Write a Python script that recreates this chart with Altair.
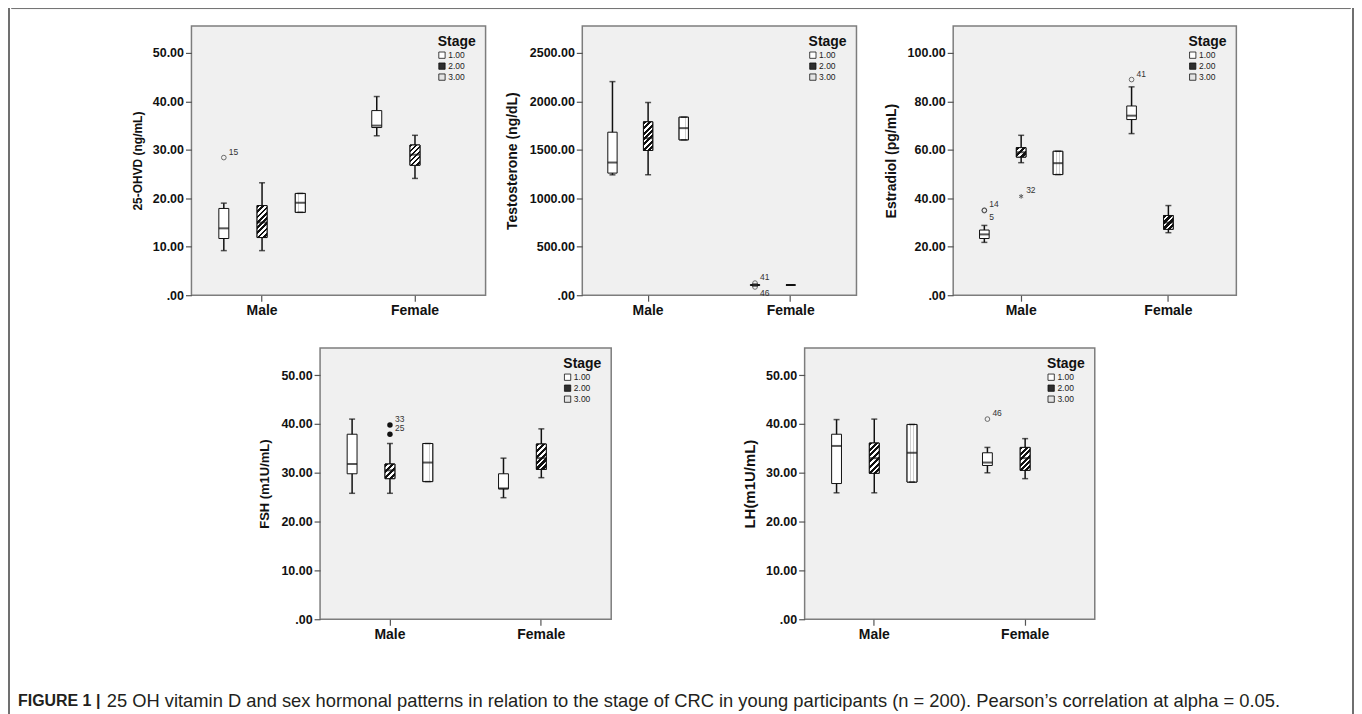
import altair as alt
import pandas as pd

SANS = "Liberation Sans"

# ---------------- data ----------------
SEXES = ["Male", "Female"]
STAGES = ["1.00", "2.00", "3.00"]
BOX_SEX = ["Male", "Male", "Male", "Female", "Female"]
BOX_STAGE = ["1.00", "2.00", "3.00", "1.00", "2.00"]

OHVD_MIN = [9.2, 9.2, 17.1, 32.9, 24.1]
OHVD_Q1 = [11.7, 11.9, 17.1, 34.6, 26.8]
OHVD_MED = [13.8, 15.0, 19.1, 35.0, 29.0]
OHVD_Q3 = [17.9, 18.5, 21.0, 38.1, 31.0]
OHVD_MAX = [19.0, 23.2, 21.0, 41.0, 33.0]
OHVD_TICKS = [0, 10, 20, 30, 40, 50]

TESTO_MIN = [1242, 1242, 1603, 95, 103]
TESTO_Q1 = [1260, 1493, 1603, 100, 104]
TESTO_MED = [1369, 1620, 1724, 105, 105]
TESTO_Q3 = [1682, 1789, 1837, 110, 106]
TESTO_MAX = [2204, 1988, 1837, 115, 107]
TESTO_TICKS = [0, 500, 1000, 1500, 2000, 2500]

E2_MIN = [21.8, 54.7, 49.8, 66.7, 25.8]
E2_Q1 = [23.4, 57.0, 49.8, 72.5, 27.2]
E2_MED = [25.1, 59.0, 54.5, 74.1, 30.0]
E2_Q3 = [26.9, 60.9, 59.4, 78.1, 32.9]
E2_MAX = [28.8, 66.0, 59.4, 86.0, 37.0]
E2_TICKS = [0, 20, 40, 60, 80, 100]

FSH_MIN = [25.8, 25.8, 28.2, 24.9, 29.0]
FSH_Q1 = [29.8, 28.8, 28.2, 26.7, 30.7]
FSH_MED = [31.8, 30.5, 32.1, 26.8, 33.0]
FSH_Q3 = [37.9, 31.8, 36.0, 29.8, 35.9]
FSH_MAX = [41.0, 36.0, 36.0, 33.0, 39.0]
FSH_TICKS = [0, 10, 20, 30, 40, 50]

LH_MIN = [25.9, 25.9, 28.1, 30.0, 28.8]
LH_Q1 = [27.8, 29.9, 28.1, 31.5, 30.5]
LH_MED = [35.5, 33.0, 34.1, 32.1, 33.0]
LH_Q3 = [37.9, 36.1, 39.9, 34.1, 35.2]
LH_MAX = [40.9, 41.0, 39.9, 35.2, 37.0]
LH_TICKS = [0, 10, 20, 30, 40, 50]

OUT_PANEL = ["25-OHVD", "Testosterone", "Testosterone", "Estradiol", "Estradiol",
             "Estradiol", "Estradiol", "FSH", "FSH", "LH"]
OUT_SEX = ["Male", "Female", "Female", "Male", "Male", "Male", "Female", "Male", "Male", "Female"]
OUT_STAGE = ["1.00", "1.00", "1.00", "1.00", "1.00", "2.00", "1.00", "2.00", "2.00", "1.00"]
OUT_VALUE = [28.4, 125, 85, 35.1, 34.9, 40.8, 89.0, 39.8, 37.9, 41.0]
OUT_CASE = ["15", "41", "46", "14", "5", "32", "41", "33", "25", "46"]
OUT_KIND = ["outlier", "outlier", "outlier", "outlier", "outlier", "extreme", "outlier",
            "filled", "filled", "outlier"]

CAPTION_LABEL = "FIGURE 1 |"
CAPTION_TEXT = ("25 OH vitamin D and sex hormonal patterns in relation to the stage of CRC in "
                "young participants (n = 200). Pearson\u2019s correlation at alpha = 0.05.")

# ---------------- styling helpers ----------------
GAP = "gap"
SLOTS = [f"Male {s}" for s in STAGES] + [GAP] + [f"Female {s}" for s in STAGES]
PAD_INNER, PAD_OUTER = 0.739, 0.716
STAGE_FILL = ["#ffffff", "#2e2e2e", "#e4e4e4"]
ASTERISK = "M0,-1L0,1M-0.866,-0.5L0.866,0.5M-0.866,0.5L0.866,-0.5"

out_all = pd.DataFrame({"panel": OUT_PANEL, "sex": OUT_SEX, "stage": OUT_STAGE,
                        "value": OUT_VALUE, "case": OUT_CASE, "kind": OUT_KIND})


def hatch(w, h, period=5.5):
    n = max(1, round((w + h) / period))
    k = (w + h) / (w * w + h * h)
    stops = []
    for i in range(n):
        a, b, c = i / n, (i + 0.55) / n, (i + 1) / n
        stops += [{"offset": a, "color": "#111111"}, {"offset": b, "color": "#111111"},
                  {"offset": b, "color": "#ffffff"}, {"offset": c, "color": "#ffffff"}]
    return {"gradient": "linear", "x1": 0, "y1": 0, "x2": k * w, "y2": k * h, "stops": stops}


DOT = "#cfcfcf"
DOTS = {"gradient": "linear", "x1": 0, "y1": 0, "x2": 1, "y2": 0, "stops": [
    {"offset": 0, "color": "#ffffff"}, {"offset": 0.28, "color": "#ffffff"},
    {"offset": 0.28, "color": DOT}, {"offset": 0.36, "color": DOT},
    {"offset": 0.36, "color": "#ffffff"}, {"offset": 0.64, "color": "#ffffff"},
    {"offset": 0.64, "color": DOT}, {"offset": 0.72, "color": DOT},
    {"offset": 0.72, "color": "#ffffff"}, {"offset": 1, "color": "#ffffff"}]}


def make_panel(key, ytitle, tsize, tpad, w, h, stats, ticks):
    mins, q1s, meds, q3s, maxs = stats
    ymax = ticks[-1] * 10 / 9
    df = pd.DataFrame({"sex": BOX_SEX, "stage": BOX_STAGE, "min": mins, "q1": q1s,
                       "med": meds, "q3": q3s, "max": maxs})
    df["slot"] = df["sex"] + " " + df["stage"]

    out = out_all[out_all["panel"] == key].copy()
    out["slot"] = out["sex"] + " " + out["stage"]
    sides = []
    for _, r in out.iterrows():
        close = ((out["slot"] == r["slot"]) & (out["value"] > r["value"]) &
                 (out["value"] - r["value"] < 0.02 * ymax)).any()
        sides.append("below" if close else "above")
    out["side"] = sides

    step = w / (len(SLOTS) - PAD_INNER + 2 * PAD_OUTER)
    bw = step * (1 - PAD_INNER)

    xs = alt.Scale(domain=SLOTS, paddingInner=PAD_INNER, paddingOuter=PAD_OUTER)
    x_axis = alt.Axis(values=["Male 2.00", "Female 2.00"],
                      labelExpr="split(datum.value, ' ')[0]", labelAngle=0,
                      labelFont=SANS, labelFontSize=14, labelFontWeight="bold",
                      labelColor="#111111", tickColor="#555555", tickSize=6, tickWidth=1.2,
                      labelPadding=2, domain=False, title=None)
    X = alt.X("slot:N", scale=xs, axis=x_axis)
    ys = alt.Scale(domain=[0, ymax], nice=False, zero=True)
    y_axis = alt.Axis(values=ticks,
                      labelExpr="datum.value == 0 ? '.00' : format(datum.value, '.2f')",
                      labelFont=SANS, labelFontSize=12.5, labelFontWeight="bold",
                      labelColor="#111111", tickColor="#555555", tickSize=6, tickWidth=1.2,
                      labelPadding=2, domain=False, grid=False,
                      titleFont=SANS, titleFontSize=tsize, titleFontWeight="bold",
                      titleColor="#111111", titlePadding=tpad)

    def Y(field):
        return alt.Y(f"{field}:Q", scale=ys, axis=y_axis, title=ytitle)

    base = alt.Chart(df)
    layers = []
    layers.append(base.mark_rule(color="#111111", strokeWidth=1.5).encode(x=X, y=Y("min"), y2="max:Q"))
    legend = alt.Legend(title="Stage", orient="top-right", offset=9,
                        titleFont=SANS, titleFontSize=14, titleFontWeight="bold",
                        titleColor="#111111", titlePadding=2, labelFont=SANS, labelFontSize=8.5,
                        labelColor="#222222", symbolType="square", symbolSize=40,
                        symbolStrokeColor="#111111", symbolStrokeWidth=0.8, rowPadding=0,
                        labelOffset=2, padding=0)
    layers.append(base.mark_bar(stroke="#111111", strokeWidth=1).encode(
        x=X, y=Y("q1"), y2="q3:Q",
        fill=alt.Fill("stage:N", scale=alt.Scale(domain=STAGES, range=STAGE_FILL), legend=legend)))
    for _, r in df[df["stage"] == "2.00"].iterrows():
        hpx = (r["q3"] - r["q1"]) * h / ymax
        layers.append(base.transform_filter(alt.datum.slot == r["slot"]).mark_bar(
            fill=hatch(bw, hpx), stroke="#111111", strokeWidth=1).encode(x=X, y=Y("q1"), y2="q3:Q"))
    layers.append(base.transform_filter(alt.datum.stage == "3.00").mark_bar(
        fill=DOTS, stroke="#111111", strokeWidth=1).encode(x=X, y=Y("q1"), y2="q3:Q"))
    layers.append(base.mark_tick(color="#111111", thickness=2, size=bw).encode(x=X, y=Y("med")))
    layers.append(base.mark_tick(color="#111111", thickness=1.5, size=6).encode(x=X, y=Y("min")))
    layers.append(base.mark_tick(color="#111111", thickness=1.5, size=6).encode(x=X, y=Y("max")))

    ob = alt.Chart(out)
    layers.append(ob.transform_filter(alt.datum.kind == "outlier").mark_point(
        shape="circle", filled=False, size=22, color="#333333", strokeWidth=1).encode(x=X, y=Y("value")))
    layers.append(ob.transform_filter(alt.datum.kind == "filled").mark_point(
        shape="circle", filled=True, size=30, color="#111111", opacity=1).encode(x=X, y=Y("value")))
    layers.append(ob.transform_filter(alt.datum.kind == "extreme").mark_point(
        shape=ASTERISK, filled=False, size=22, color="#222222", strokeWidth=1).encode(x=X, y=Y("value")))
    layers.append(ob.transform_filter(alt.datum.side == "above").mark_text(
        align="left", baseline="middle", dx=5, dy=-6, font=SANS, fontSize=8.5,
        color="#333333").encode(x=X, y=Y("value"), text="case:N"))
    layers.append(ob.transform_filter(alt.datum.side == "below").mark_text(
        align="left", baseline="middle", dx=5, dy=6, font=SANS, fontSize=8.5,
        color="#333333").encode(x=X, y=Y("value"), text="case:N"))

    return alt.layer(*layers).properties(
        width=w, height=h,
        view=alt.ViewBackground(fill="#f0f0f0", stroke="#7d7d7d", strokeWidth=1.5))


def blank(w, h, stroke="transparent", sw=0):
    return alt.Chart(pd.DataFrame({"v": [0.0]}).iloc[0:0]).mark_point(
        size=0, strokeWidth=0, opacity=0).encode(x=alt.value(0), y=alt.value(0)).properties(
        width=w, height=h, view=alt.ViewBackground(stroke=stroke, strokeWidth=sw, fill="transparent"))


p1 = make_panel("25-OHVD", "25-OHVD (ng/mL)", 12, 8, 295, 270,
                (OHVD_MIN, OHVD_Q1, OHVD_MED, OHVD_Q3, OHVD_MAX), OHVD_TICKS)
p2 = make_panel("Testosterone", "Testosterone (ng/dL)", 14, 10, 275, 270,
                (TESTO_MIN, TESTO_Q1, TESTO_MED, TESTO_Q3, TESTO_MAX), TESTO_TICKS)
p3 = make_panel("Estradiol", "Estradiol (pg/mL)", 14, 9, 284, 270,
                (E2_MIN, E2_Q1, E2_MED, E2_Q3, E2_MAX), E2_TICKS)
p4 = make_panel("FSH", "FSH (m1U/mL)", 13, 9, 292, 272,
                (FSH_MIN, FSH_Q1, FSH_MED, FSH_Q3, FSH_MAX), FSH_TICKS)
p5 = make_panel("LH", "LH(m1U/mL)", 15, 8, 291, 272,
                (LH_MIN, LH_Q1, LH_MED, LH_Q3, LH_MAX), LH_TICKS)

row1 = alt.hconcat(blank(84, 1), p1, p2, p3, spacing=97, bounds="flush").resolve_scale(fill="independent")
row2 = alt.hconcat(blank(116, 1), p4, p5, spacing=194, bounds="flush").resolve_scale(fill="independent")
body = alt.vconcat(row1, row2, spacing=29).resolve_scale(fill="independent")

cap_df = pd.DataFrame({"label": [CAPTION_LABEL], "text": [CAPTION_TEXT]})
cap_bold = alt.Chart(cap_df).mark_text(align="left", baseline="middle", font=SANS, fontSize=16,
                                       fontWeight="bold", color="#231f20").encode(
    x=alt.value(7), y=alt.value(43), text="label:N")
cap_rest = alt.Chart(cap_df).mark_text(align="left", baseline="middle", font=SANS, fontSize=18.4,
                                       color="#231f20").encode(
    x=alt.value(96), y=alt.value(43), text="text:N")
caption = alt.layer(cap_bold, cap_rest).properties(
    width=1300, height=50, view=alt.ViewBackground(stroke="transparent", strokeWidth=0))

FRAME = "#6e6e6e"
middle = alt.vconcat(blank(1343, 1, FRAME, 1), body, caption, spacing=16).resolve_scale(fill="independent")
chart = alt.hconcat(blank(1, 712, FRAME, 1), middle, blank(1, 712, FRAME, 1), spacing=0).resolve_scale(
    fill="independent").properties(padding={"left": -1, "top": -3, "right": 0, "bottom": 0}).configure(
    background="white")

chart.save("out.html", embed_options={"renderer": "svg", "actions": False})
